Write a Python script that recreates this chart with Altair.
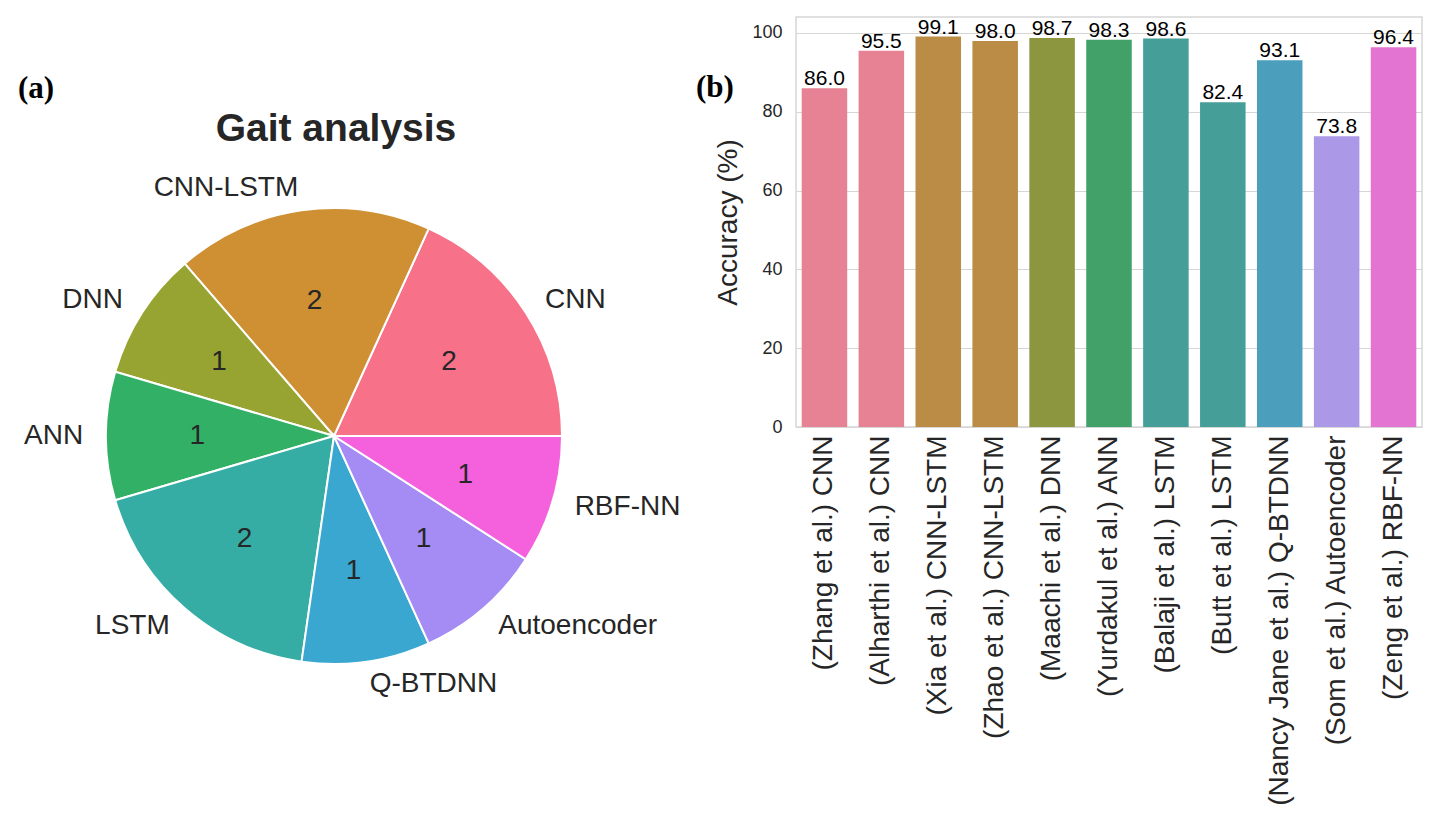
import colorsys
import altair as alt
import pandas as pd

# ---------------- data ----------------
pie_labels = ["CNN", "CNN-LSTM", "DNN", "ANN", "LSTM", "Q-BTDNN", "Autoencoder", "RBF-NN"]
pie_counts = [2, 2, 1, 1, 2, 1, 1, 1]
pie_colors = ["#f77189", "#ce9032", "#97a431", "#32b166", "#36ada4", "#39a7d0", "#a48cf4", "#f561dd"]

bar_names = [
    "(Zhang et al.) CNN", "(Alharthi et al.) CNN", "(Xia et al.) CNN-LSTM",
    "(Zhao et al.) CNN-LSTM", "(Maachi et al.) DNN", "(Yurdakul et al.) ANN",
    "(Balaji et al.) LSTM", "(Butt et al.) LSTM", "(Nancy Jane et al.) Q-BTDNN",
    "(Som et al.) Autoencoder", "(Zeng et al.) RBF-NN",
]
bar_models = ["CNN", "CNN", "CNN-LSTM", "CNN-LSTM", "DNN", "ANN", "LSTM", "LSTM",
              "Q-BTDNN", "Autoencoder", "RBF-NN"]
bar_values = [86.0, 95.5, 99.1, 98.0, 98.7, 98.3, 98.6, 82.4, 93.1, 73.8, 96.4]
y_ticks = [0, 20, 40, 60, 80, 100]


def desat(hexc, prop=0.75):
    r, g, b = (int(hexc[i:i + 2], 16) / 255 for i in (1, 3, 5))
    h, l, s = colorsys.rgb_to_hls(r, g, b)
    r, g, b = colorsys.hls_to_rgb(h, l, s * prop)
    return "#%02x%02x%02x" % (round(r * 255), round(g * 255), round(b * 255))


bar_colors = [desat(c) for c in pie_colors]

FONT = "Liberation Sans"
TEXT = "#262626"

pie_df = pd.DataFrame({"label": pie_labels, "count": pie_counts, "idx": list(range(len(pie_labels)))})
total = sum(pie_counts)

# ---------------- pie ----------------
PW, PH = 680, 720
CX, CY, R = 326, 419, 228
theta_scale = alt.Scale(domain=[0, total], range=[1.5707963, 1.5707963 - 6.2831853])
color_scale = alt.Scale(domain=pie_labels, range=pie_colors)

base = alt.Chart(pie_df)

arcs = base.mark_arc(outerRadius=R, stroke="white", strokeWidth=2).encode(
    theta=alt.Theta("count:Q", stack=True, scale=theta_scale),
    color=alt.Color("label:N", scale=color_scale, legend=None),
    order=alt.Order("idx:Q"),
    x=alt.value(CX), y=alt.value(CY),
)

lab_base = base.transform_window(
    cum="sum(count)", sort=[alt.SortField("idx")], frame=[None, 0]
).transform_calculate(
    mid="datum.cum - datum.count / 2",
).transform_calculate(
    right="cos(2 * PI * datum.mid / %d) > 0" % total
)

counts_txt = lab_base.mark_text(radius=0.6 * R, font=FONT, fontSize=28, color=TEXT,
                                baseline="middle", align="center").encode(
    theta=alt.Theta("mid:Q", stack=False, scale=theta_scale),
    text="count:Q",
    x=alt.value(CX), y=alt.value(CY),
)

lab_right = lab_base.transform_filter("datum.right").mark_text(
    radius=1.1 * R, font=FONT, fontSize=28, color=TEXT, baseline="middle", align="left"
).encode(
    theta=alt.Theta("mid:Q", stack=False, scale=theta_scale),
    text="label:N",
    x=alt.value(CX), y=alt.value(CY),
)
lab_left = lab_base.transform_filter("!datum.right").mark_text(
    radius=1.1 * R, font=FONT, fontSize=28, color=TEXT, baseline="middle", align="right"
).encode(
    theta=alt.Theta("mid:Q", stack=False, scale=theta_scale),
    text="label:N",
    x=alt.value(CX), y=alt.value(CY),
)

title_df = pd.DataFrame({"t": ["Gait analysis"]})
pie_title = alt.Chart(title_df).mark_text(
    font=FONT, fontSize=39, fontWeight="bold", color=TEXT, align="center", baseline="alphabetic"
).encode(text="t:N", x=alt.value(CX + 2), y=alt.value(124))

a_df = pd.DataFrame({"t": ["(a)"]})
a_txt = alt.Chart(a_df).mark_text(
    font="Liberation Serif", fontSize=31, fontWeight="bold", color="black", align="left",
    baseline="alphabetic"
).encode(text="t:N", x=alt.value(10), y=alt.value(81))

pie = alt.layer(arcs, counts_txt, lab_right, lab_left, pie_title, a_txt).properties(
    width=PW, height=PH, view=alt.ViewBackground(stroke=None)
)

# ---------------- bars ----------------
bar_df = pd.DataFrame({"name": bar_names, "model": bar_models, "acc": bar_values})
bcolor = alt.Scale(domain=pie_labels, range=bar_colors)
xenc = alt.X("name:N", sort=bar_names, title=None,
             scale=alt.Scale(paddingInner=0.2, paddingOuter=0.1),
             axis=alt.Axis(labelAngle=270, labelFontSize=28, labelFont=FONT, labelColor=TEXT,
                           ticks=False, domain=False, labelPadding=8, labelLimit=500))
yenc = alt.Y("acc:Q", title="Accuracy (%)",
             scale=alt.Scale(domain=[0, 104.06], nice=False),
             axis=alt.Axis(values=y_ticks, labelFontSize=18, labelFont=FONT, labelColor=TEXT,
                           ticks=False, domain=False, labelPadding=14,
                           titleFontSize=28, titleFont=FONT, titleColor=TEXT,
                           titleFontWeight="normal", titlePadding=9,
                           grid=True, gridColor="#d6d6d6", gridWidth=1.2))

bars = alt.Chart(bar_df).mark_bar().encode(
    x=xenc, y=yenc,
    color=alt.Color("model:N", scale=bcolor, legend=None),
)
bar_txt = alt.Chart(bar_df).mark_text(
    font=FONT, fontSize=21, color="black", baseline="bottom", align="center", dy=1
).encode(
    x=alt.X("name:N", sort=bar_names),
    y=alt.Y("acc:Q"),
    text=alt.Text("acc:Q", format=".1f"),
)
b_df = pd.DataFrame({"t": ["(b)"]})
b_txt = alt.Chart(b_df).mark_text(
    font="Liberation Serif", fontSize=31, fontWeight="bold", color="black", align="left",
    baseline="alphabetic"
).encode(text="t:N", x=alt.value(-100), y=alt.value(80))

barchart = alt.layer(bars, bar_txt, b_txt).properties(
    width=626, height=410, view=alt.ViewBackground(stroke="#d6d6d6", strokeWidth=1.5)
)

chart = alt.hconcat(pie, barchart, spacing=7).resolve_scale(
    color="independent"
).properties(padding={"left": 0, "top": 7, "right": 0, "bottom": 0})

chart.save("out.html", embed_options={"renderer": "svg", "actions": False})
